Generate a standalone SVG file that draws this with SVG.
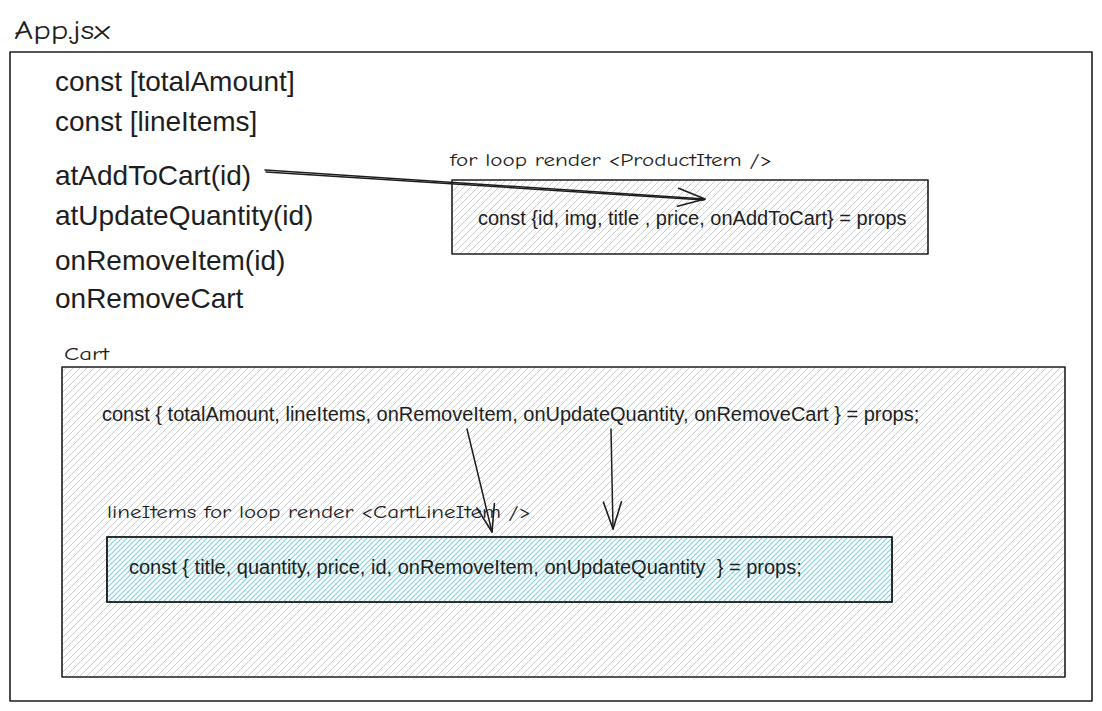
<svg xmlns="http://www.w3.org/2000/svg" width="1102" height="711" viewBox="0 0 1102 711">
<defs>
<style>
.box{stroke:#1e1e1e;stroke-width:1.6;stroke-linejoin:round}
.code{font-family:"Liberation Sans",Arial,sans-serif;fill:#1e1e1e;white-space:pre}
.hand{font-family:"Comic Neue","DejaVu Sans",sans-serif;fill:#1e1e1e}
.conn{stroke:#1e1e1e;stroke-width:1.5;fill:none;stroke-linecap:round}
</style>
<pattern id="hGray" patternUnits="userSpaceOnUse" width="7" height="7">
<path d="M-1,1 L1,-1 M0,7 L7,0 M6,8 L8,6" stroke="#c9cdd1" stroke-width="1"/>
</pattern>
<pattern id="hCyan" patternUnits="userSpaceOnUse" width="5" height="5">
<path d="M-1,1 L1,-1 M0,5 L5,0 M4,6 L6,4" stroke="#86d3de" stroke-width="1.2"/>
</pattern>
<marker id="arr" markerUnits="userSpaceOnUse" markerWidth="40" markerHeight="30" refX="0" refY="0" viewBox="-30 -15 40 30" orient="auto" overflow="visible">
<path d="M-27,-9 L0,0 L-27,9" fill="none" stroke="#1e1e1e" stroke-width="1.6" stroke-linecap="round" stroke-linejoin="round"/>
</marker>
</defs>
<rect width="1102" height="711" fill="#ffffff"/>

<g id="app">
<text class="hand" x="14" y="39" font-size="27" textLength="96" lengthAdjust="spacingAndGlyphs">App.jsx</text>
<rect class="box" x="10" y="52" width="1082" height="649" fill="none"/>
<text class="code" x="55" y="91" font-size="28">const [totalAmount]</text>
<text class="code" x="55" y="131" font-size="28">const [lineItems]</text>
<text class="code" x="55" y="185" font-size="28">atAddToCart(id)</text>
<text class="code" x="55" y="225" font-size="28">atUpdateQuantity(id)</text>
<text class="code" x="55" y="270" font-size="28">onRemoveItem(id)</text>
<text class="code" x="55" y="308" font-size="28">onRemoveCart</text>
</g>

<g id="productItem">
<text class="hand" x="450" y="166" font-size="19" textLength="322" lengthAdjust="spacingAndGlyphs">for loop render &lt;ProductItem /&gt;</text>
<rect class="box" x="452" y="180" width="476" height="74" fill="url(#hGray)"/>
<text class="code" x="478" y="225" font-size="20">const {id, img, title , price, onAddToCart} = props</text>
</g>

<g id="cart">
<text class="hand" x="64" y="360" font-size="19" textLength="45" lengthAdjust="spacingAndGlyphs">Cart</text>
<rect class="box" x="62" y="367" width="1003" height="310" fill="url(#hGray)"/>
<text class="code" x="102" y="421" font-size="20">const { totalAmount, lineItems, onRemoveItem, onUpdateQuantity, onRemoveCart } = props;</text>
</g>

<g id="cartLineItem">
<text class="hand" x="107" y="518" font-size="19" textLength="424" lengthAdjust="spacingAndGlyphs">lineItems for loop render &lt;CartLineItem /&gt;</text>
<rect class="box" x="107" y="537" width="785" height="65" fill="#ffffff"/>
<rect x="107" y="537" width="785" height="65" fill="url(#hCyan)"/>
<rect class="box" x="107" y="537" width="785" height="65" fill="none"/>
<text class="code" x="129" y="574" font-size="20" xml:space="preserve">const { title, quantity, price, id, onRemoveItem, onUpdateQuantity  } = props;</text>
</g>

<g id="connectors">
<path class="conn" d="M265,170 L705,199" marker-end="url(#arr)"/>
<path class="conn" d="M266,172 L704,200" stroke-width="0.8"/>
<path class="conn" d="M467,429 L492,532" marker-end="url(#arr)"/>
<path class="conn" d="M611,429 L613,529" marker-end="url(#arr)"/>
</g>
</svg>
